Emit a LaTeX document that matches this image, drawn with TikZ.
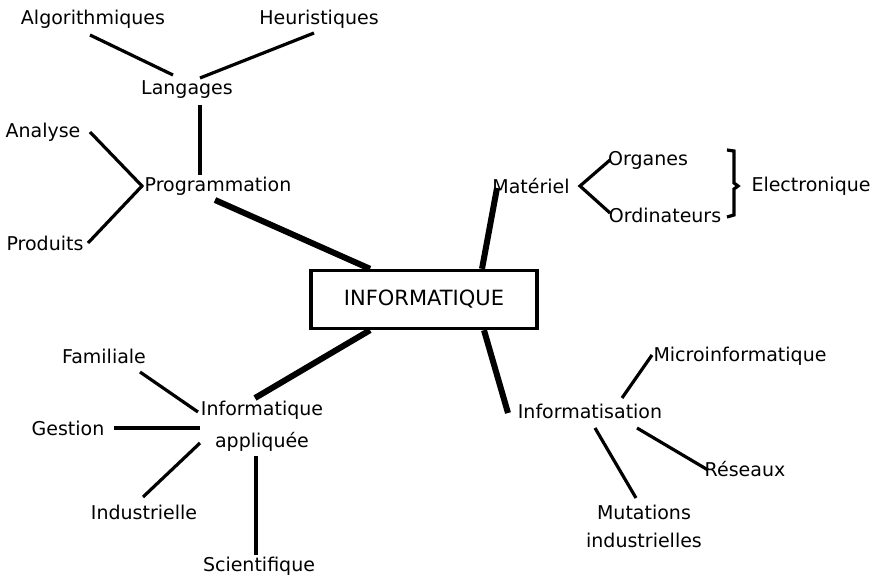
\documentclass[tikz,border=0pt]{standalone}
\usepackage{fontspec}
\setmainfont{DejaVu Sans}
\begin{document}
\begin{tikzpicture}[x=1pt,y=-1pt,
  txt/.style={inner sep=0pt, font=\fontsize{19}{32}\selectfont, align=center},
  thin/.style={line width=3.2pt},
  thick/.style={line width=6pt},
  mainbox/.style={draw, line width=3.4pt, minimum width=226pt, minimum height=58pt, inner sep=0pt, font=\fontsize{21}{24}\selectfont}]
\useasboundingbox (0,0) rectangle (877,578);
% nodes
\node[txt] (algo) at (93,19) {Algorithmiques};
\node[txt] (heur) at (319,19) {Heuristiques};
\node[txt] (lang) at (187,90) {Langages};
\node[txt] (anal) at (43,132) {Analyse};
\node[txt] (prog) at (218,186) {Programmation};
\node[txt] (prod) at (45,243) {Produits};
\node[txt] (mat) at (531,186) {Matériel};
\node[txt] (org) at (648,160) {Organes};
\node[txt] (ord) at (665,215) {Ordinateurs};
\node[txt] (elec) at (811,186) {Electronique};
\node[mainbox] (info) at (424,299.5) {INFORMATIQUE};
\node[txt] (fam) at (104,356) {Familiale};
\node[txt] (appl) at (262,426) {Informatique\\appliquée};
\node[txt] (gest) at (68,428) {Gestion};
\node[txt] (indu) at (144,512) {Industrielle};
\node[txt] (sci) at (259,566) {Scientifique};
\node[txt] (infz) at (590,411) {Informatisation};
\node[txt] (micro) at (740,356) {Microinformatique};
\node[txt] (res) at (745,469) {Réseaux};
\node[txt, font=\fontsize{19}{28}\selectfont] (mut) at (644,526) {Mutations\\industrielles};
% thin connectors
\draw[thin] ([shift={(-3,16)}]algo.center) -- ([shift={(-14,-15)}]lang.center);
\draw[thin] ([shift={(-5,14)}]heur.center) -- ([shift={(13,-12)}]lang.center);
\draw[thin] ([shift={(13,15)}]lang.center) -- ([shift={(-18,-11)}]prog.center);
\draw[thin] ([shift={(47,0)}]anal.center) -- ([shift={(-76,0)}]prog.center) -- ([shift={(43,0)}]prod.center);
\draw[thin] ([shift={(-38,0)}]org.center) -- ([shift={(49,0)}]mat.center) -- ([shift={(-55,-2)}]ord.center);
\draw[thin] ([shift={(36,16)}]fam.center) -- ([shift={(-64,-14)}]appl.center);
\draw[thin] ([shift={(46,0)}]gest.center) -- ([shift={(-62,2)}]appl.center);
\draw[thin] ([shift={(-1,-15)}]indu.center) -- ([shift={(-62,17)}]appl.center);
\draw[thin] ([shift={(-3,-11)}]sci.center) -- ([shift={(-6,30)}]appl.center);
\draw[thin] ([shift={(32,-13)}]infz.center) -- ([shift={(-88,-1)}]micro.center);
\draw[thin] ([shift={(47,17)}]infz.center) -- ([shift={(-37,1)}]res.center);
\draw[thin] ([shift={(5,17)}]infz.center) -- ([shift={(-8,-28)}]mut.center);
% thick connectors
\draw[thick] ([shift={(-3,14)}]prog.center) -- ([xshift=-54pt]info.north);
\draw[thick] ([shift={(-34,2)}]mat.center) -- ([xshift=58pt]info.north);
\draw[thick] ([xshift=-54pt]info.south) -- ([shift={(-7,-28)}]appl.center);
\draw[thick] ([xshift=60pt]info.south) -- ([shift={(-82,2)}]infz.center);
% brace
\coordinate (bt) at (727,150);
\draw[thin] (bt) -- (734,151) -- (734,183) -- (738,186) -- (734,189) -- (734,215) -- (727,217);
\end{tikzpicture}
\end{document}
